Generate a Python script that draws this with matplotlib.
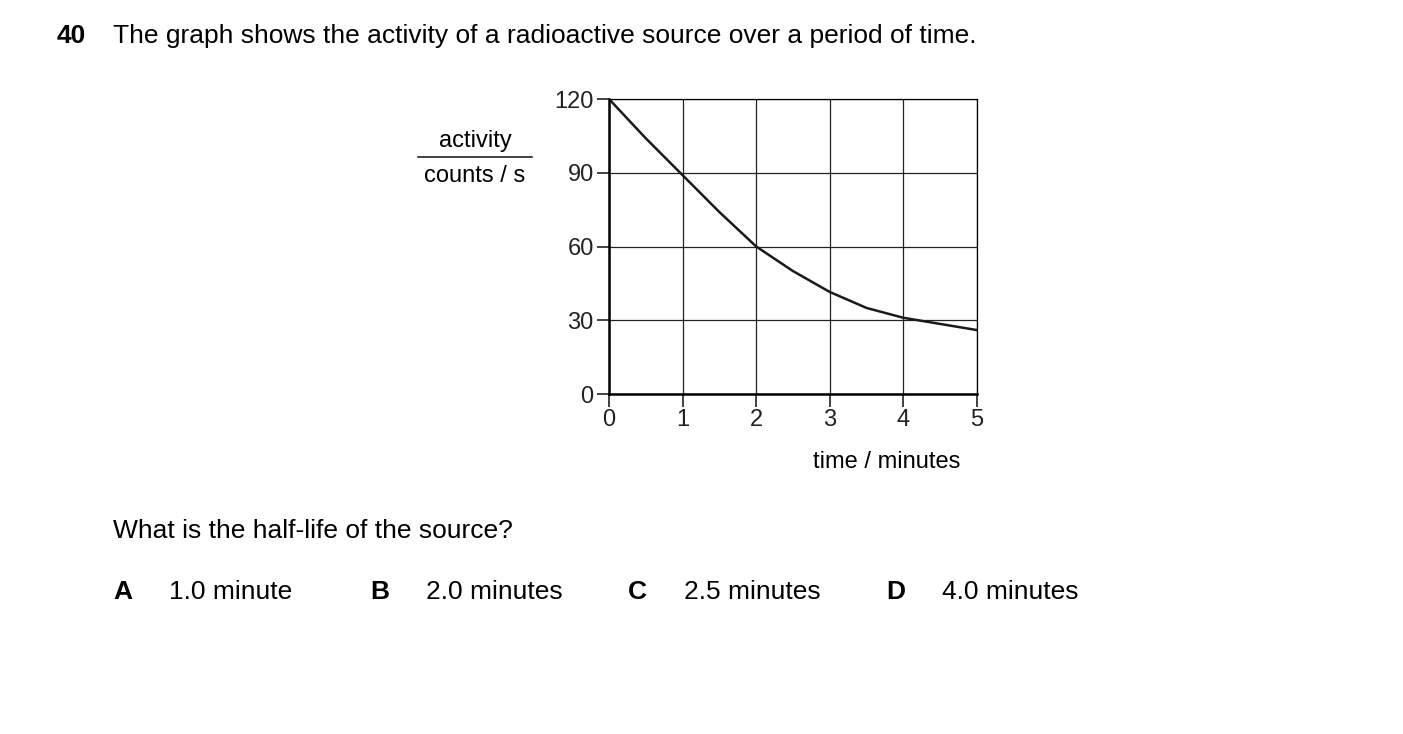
import matplotlib.pyplot as plt
from matplotlib.lines import Line2D

plt.rcParams['font.family'] = ['Liberation Sans', 'DejaVu Sans']

time_min = [0, 0.5, 1, 1.5, 2, 2.5, 3, 3.5, 4, 4.5, 5]
activity = [120, 104, 89, 74, 60, 50, 41.5, 35, 31, 28.5, 26]
x_ticks = [0, 1, 2, 3, 4, 5]
y_ticks = [0, 30, 60, 90, 120]
options = [('A', '1.0 minute'), ('B', '2.0 minutes'), ('C', '2.5 minutes'), ('D', '4.0 minutes')]

W, H = 1403, 734
fig = plt.figure(figsize=(W / 100, H / 100), dpi=100)
ax = fig.add_axes([609 / W, 1 - 394 / H, 368 / W, 295 / H])
ax.plot(time_min, activity, color='#1a1a1a', lw=1.8)
ax.set_xlim(0, 5)
ax.set_ylim(0, 120)
ax.set_xticks(x_ticks)
ax.set_yticks(y_ticks)
ax.grid(True, color='#222222', lw=0.9)
ax.tick_params(direction='out', length=9, width=1.2, labelsize=17, colors='#222222', pad=2)
for s in ['top', 'right']:
    ax.spines[s].set_linewidth(0.9)
for s in ['left', 'bottom']:
    ax.spines[s].set_linewidth(1.8)

fs = 19
fig.text(57 / W, 1 - 36 / H, '40', fontsize=fs, fontweight='bold', va='center')
fig.text(113 / W, 1 - 36 / H, 'The graph shows the activity of a radioactive source over a period of time.',
         fontsize=fs, va='center')
fig.text(475 / W, 1 - 141 / H, 'activity', fontsize=17, ha='center', va='center')
fig.text(475 / W, 1 - 176 / H, 'counts / s', fontsize=17, ha='center', va='center')
fig.add_artist(Line2D([418 / W, 532 / W], [1 - 157 / H, 1 - 157 / H], color='#222222', lw=1.2))
fig.text(887 / W, 1 - 462 / H, 'time / minutes', fontsize=17, ha='center', va='center')
fig.text(113 / W, 1 - 531 / H, 'What is the half-life of the source?', fontsize=fs, va='center')
for (letter, text), lx in zip(options, [113, 370, 628, 886]):
    fig.text(lx / W, 1 - 592 / H, letter, fontsize=fs, fontweight='bold', va='center')
    fig.text((lx + 56) / W, 1 - 592 / H, text, fontsize=fs, va='center')

fig.savefig('out.png', dpi=100)
